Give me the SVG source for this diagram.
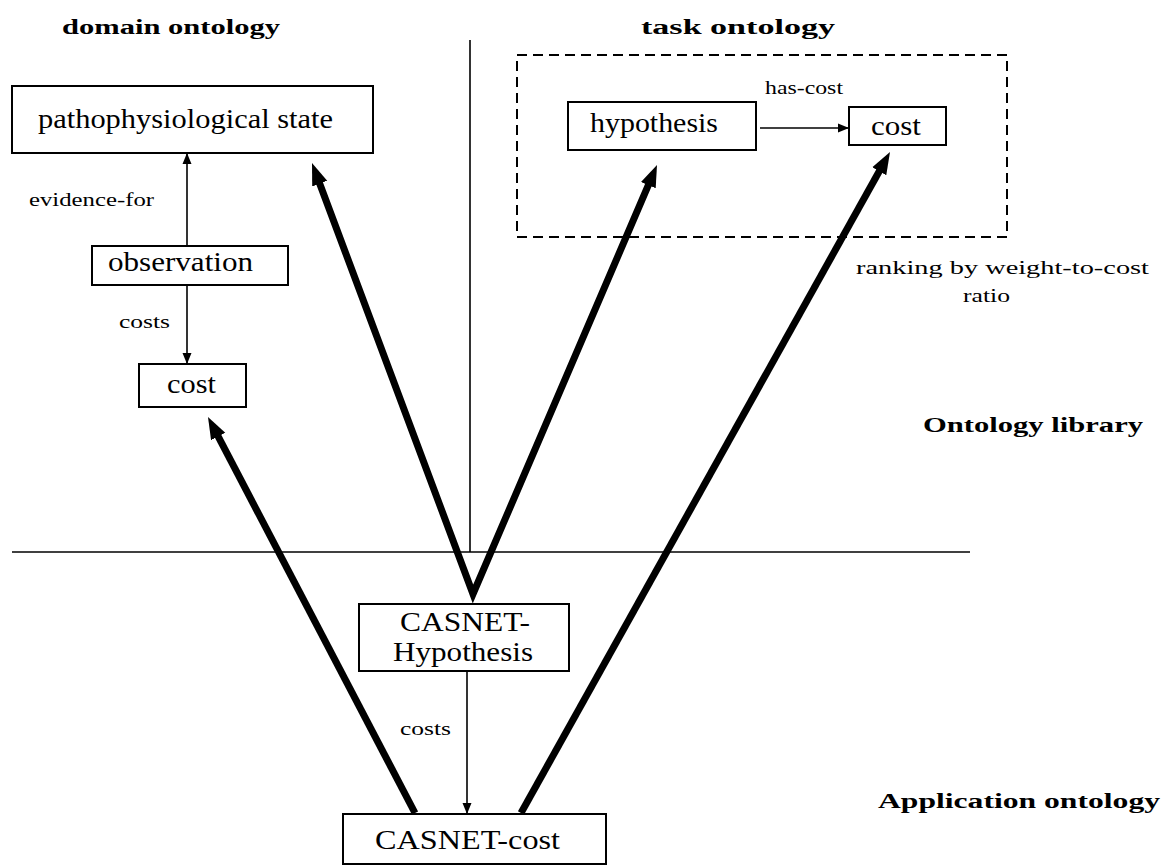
<svg xmlns="http://www.w3.org/2000/svg" width="1169" height="866" viewBox="0 0 1169 866">
  <defs>
    <marker id="thick-head" markerUnits="userSpaceOnUse" markerWidth="24" markerHeight="20" viewBox="0 -10 24 20" refX="6" refY="0" orient="auto-start-reverse">
      <polygon points="0,-8 22,0 0,8" fill="#000"/>
    </marker>
    <marker id="thin-head" markerUnits="userSpaceOnUse" markerWidth="12" markerHeight="10" viewBox="0 -5 12 10" refX="10" refY="0" orient="auto">
      <polygon points="0,-4.5 11,0 0,4.5" fill="#000"/>
    </marker>
    <style>
      .box { fill: #fff; stroke: #000; stroke-width: 2; }
      .label { font-family: "Liberation Serif", "Times New Roman", serif; font-size: 27px; fill: #000; }
      .small { font-family: "Liberation Serif", "Times New Roman", serif; font-size: 19px; fill: #000; }
      .title { font-family: "Liberation Serif", "Times New Roman", serif; font-size: 20px; font-weight: bold; fill: #000; }
      .thin { stroke: #000; stroke-width: 1.6; fill: none; }
      .thick { stroke: #000; stroke-width: 7; fill: none; stroke-linejoin: miter; }
      .divider { stroke: #000; stroke-width: 1.6; }
    </style>
  </defs>

  <rect width="1169" height="866" fill="#fff"/>

  <!-- section titles -->
  <g id="titles">
    <text class="title" x="62" y="34" textLength="218" lengthAdjust="spacingAndGlyphs">domain ontology</text>
    <text class="title" x="641" y="34" textLength="194" lengthAdjust="spacingAndGlyphs">task ontology</text>
    <text class="title" x="923" y="432" textLength="220" lengthAdjust="spacingAndGlyphs">Ontology library</text>
    <text class="title" x="878" y="808" textLength="282" lengthAdjust="spacingAndGlyphs">Application ontology</text>
  </g>

  <!-- dividing lines between library and application level -->
  <g id="dividers">
    <line class="divider" x1="470" y1="40" x2="470" y2="552"/>
    <line class="divider" x1="12" y1="552" x2="970" y2="552"/>
  </g>

  <!-- task ontology frame -->
  <g id="task-frame">
    <rect x="517" y="55" width="490" height="182" fill="none" stroke="#000" stroke-width="2" stroke-dasharray="10,6"/>
  </g>

  <!-- domain ontology nodes -->
  <g id="pathophysiological-state">
    <rect class="box" x="12" y="86" width="361" height="67"/>
    <text class="label" x="38" y="128" textLength="295" lengthAdjust="spacingAndGlyphs">pathophysiological state</text>
  </g>
  <g id="observation">
    <rect class="box" x="92" y="246" width="196" height="39"/>
    <text class="label" x="108" y="271" textLength="145" lengthAdjust="spacingAndGlyphs">observation</text>
  </g>
  <g id="domain-cost">
    <rect class="box" x="139" y="364" width="107" height="43"/>
    <text class="label" x="167" y="393" textLength="49" lengthAdjust="spacingAndGlyphs">cost</text>
  </g>

  <!-- task ontology nodes -->
  <g id="hypothesis">
    <rect class="box" x="568" y="102" width="188" height="48"/>
    <text class="label" x="590" y="132" textLength="128" lengthAdjust="spacingAndGlyphs">hypothesis</text>
  </g>
  <g id="task-cost">
    <rect class="box" x="849" y="107" width="97" height="38"/>
    <text class="label" x="871" y="135" textLength="50" lengthAdjust="spacingAndGlyphs">cost</text>
  </g>

  <!-- application ontology nodes -->
  <g id="casnet-hypothesis">
    <rect class="box" x="359" y="604" width="210" height="67"/>
    <text class="label" x="400" y="631" textLength="130" lengthAdjust="spacingAndGlyphs">CASNET-</text>
    <text class="label" x="393" y="661" textLength="140" lengthAdjust="spacingAndGlyphs">Hypothesis</text>
  </g>
  <g id="casnet-cost">
    <rect class="box" x="343" y="814" width="263" height="50"/>
    <text class="label" x="375" y="849" textLength="185" lengthAdjust="spacingAndGlyphs">CASNET-cost</text>
  </g>

  <!-- connectors -->
  <g id="connectors">
    <line class="thin" x1="187" y1="246" x2="187" y2="154" marker-end="url(#thin-head)"/>
    <line class="thin" x1="187" y1="285" x2="187" y2="363" marker-end="url(#thin-head)"/>
    <line class="thin" x1="760" y1="128" x2="848" y2="128" marker-end="url(#thin-head)"/>
    <line class="thin" x1="467" y1="671" x2="467" y2="813" marker-end="url(#thin-head)"/>

    <path class="thick" d="M317.6,178 L473,594 L650.7,179.7" marker-start="url(#thick-head)" marker-end="url(#thick-head)"/>
    <line class="thick" x1="415" y1="813" x2="215.4" y2="431.2" marker-end="url(#thick-head)"/>
    <line class="thick" x1="521" y1="813" x2="882.2" y2="166" marker-end="url(#thick-head)"/>
  </g>

  <!-- connector labels -->
  <g id="connector-labels">
    <text class="small" x="29" y="206" textLength="125" lengthAdjust="spacingAndGlyphs">evidence-for</text>
    <text class="small" x="119" y="328" textLength="51" lengthAdjust="spacingAndGlyphs">costs</text>
    <text class="small" x="765" y="94" textLength="78" lengthAdjust="spacingAndGlyphs">has-cost</text>
    <text class="small" x="856" y="274" textLength="293" lengthAdjust="spacingAndGlyphs">ranking by weight-to-cost</text>
    <text class="small" x="963" y="302" textLength="47" lengthAdjust="spacingAndGlyphs">ratio</text>
    <text class="small" x="400" y="735" textLength="51" lengthAdjust="spacingAndGlyphs">costs</text>
  </g>
</svg>
